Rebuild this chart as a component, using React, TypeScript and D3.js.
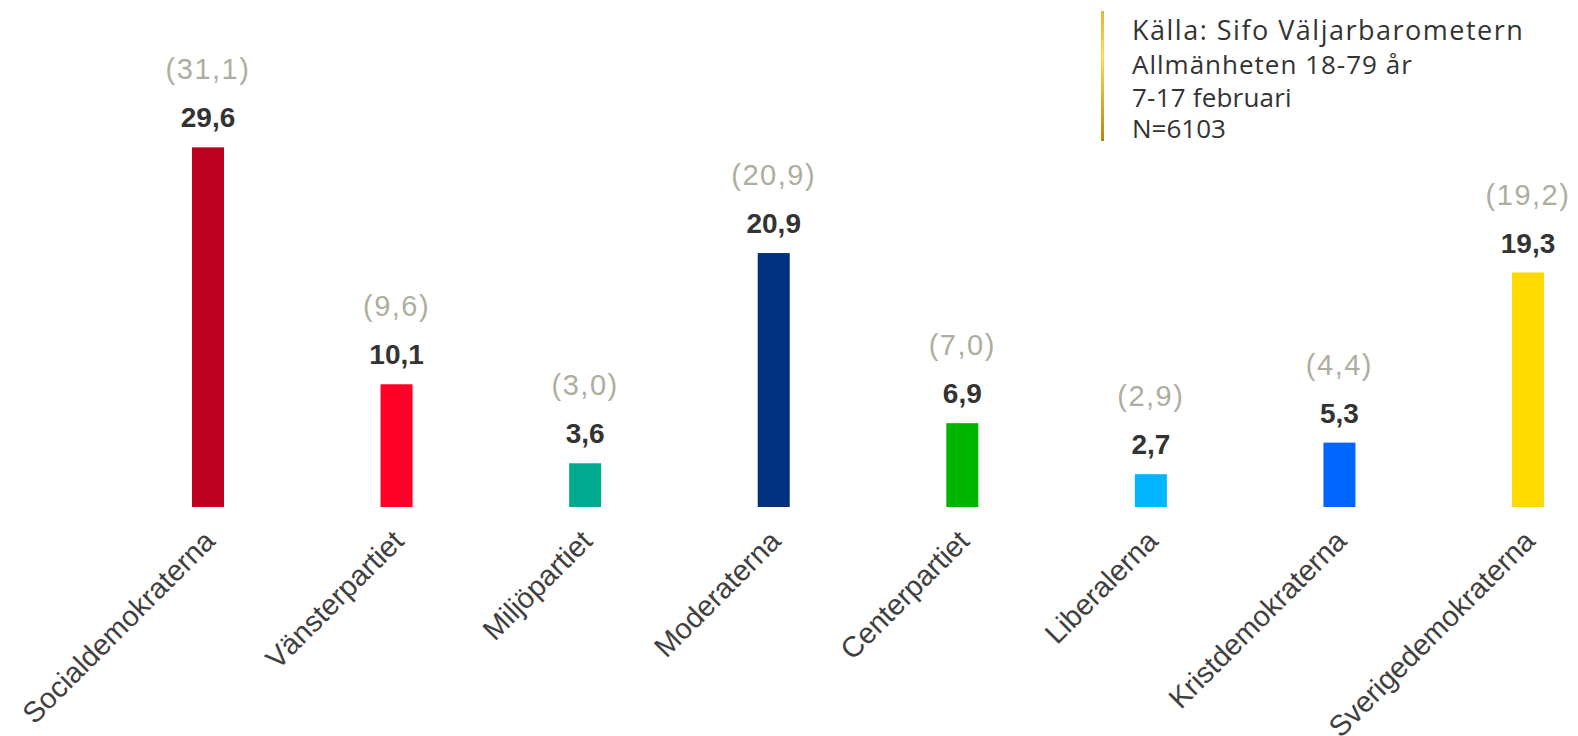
import React from "react";
import * as d3 from "d3";

const categories = [
  "Socialdemokraterna",
  "Vänsterpartiet",
  "Miljöpartiet",
  "Moderaterna",
  "Centerpartiet",
  "Liberalerna",
  "Kristdemokraterna",
  "Sverigedemokraterna",
];
const currentValues = [29.6, 10.1, 3.6, 20.9, 6.9, 2.7, 5.3, 19.3];
const previousValues = [31.1, 9.6, 3.0, 20.9, 7.0, 2.9, 4.4, 19.2];
const partyColors = ["#BB0020", "#FF0028", "#00AA8E", "#003080", "#00B400", "#00B4FF", "#0066FF", "#FFDA00"];
const sourceLines = ["Källa: Sifo Väljarbarometern", "Allmänheten 18-79 år", "7-17 februari", "N=6103"];

const W = 1578;
const H = 736;
const fmt = (v: number) => d3.format(".1f")(v).replace(".", ",");

export default function App() {
  const x = d3.scalePoint<string>().domain(categories).range([208, 1528]);
  const y = d3.scaleLinear().domain([0, 30]).range([507, 507 - 30 * 12.15]);
  const bw = 32;
  const numFont = "'Liberation Sans', Arial, sans-serif";
  const srcFont = "'Open Sans', Lato, sans-serif";
  const srcY = [40, 74, 107, 138];
  const srcSize = [27, 26, 26, 26];
  const srcSpacing = [1.5, 1.0, 0.2, 0];
  return (
    <svg width={W} height={H} style={{ position: "absolute", left: 0, top: 0, background: "#fff" }}>
      <defs>
        <linearGradient id="gold" x1="0" y1="0" x2="0" y2="1">
          <stop offset="0" stopColor="#E2B43A" />
          <stop offset="0.35" stopColor="#F8DC5A" />
          <stop offset="1" stopColor="#B7860E" />
        </linearGradient>
      </defs>
      {categories.map((c, i) => {
        const cx = x(c)!;
        const top = y(currentValues[i]);
        return (
          <g key={c}>
            <rect x={cx - bw / 2} y={top} width={bw} height={y(0) - top} fill={partyColors[i]} />
            <text x={cx} y={top - 20} textAnchor="middle" fontFamily={numFont} fontWeight="bold" fontSize={28} fill="#333">
              {fmt(currentValues[i])}
            </text>
            <text
              x={cx}
              y={top - 68}
              textAnchor="middle"
              fontFamily={numFont}
              fontSize={29}
              letterSpacing={1.5}
              fill="#AEAEA0"
            >
              ({fmt(previousValues[i])})
            </text>
            <text
              transform={`translate(${cx - 6},${528}) rotate(-45)`}
              textAnchor="end"
              dy="0.72em"
              fontFamily={numFont}
              fontSize={29}
              fill="#404040"
            >
              {c}
            </text>
          </g>
        );
      })}
      <rect x={1101} y={11} width={3} height={130} fill="url(#gold)" />
      {sourceLines.map((t, i) => (
        <text
          key={t}
          x={1132}
          y={srcY[i]}
          fontFamily={srcFont}
          fontSize={srcSize[i]}
          letterSpacing={srcSpacing[i]}
          fill="#333"
        >
          {t}
        </text>
      ))}
    </svg>
  );
}
